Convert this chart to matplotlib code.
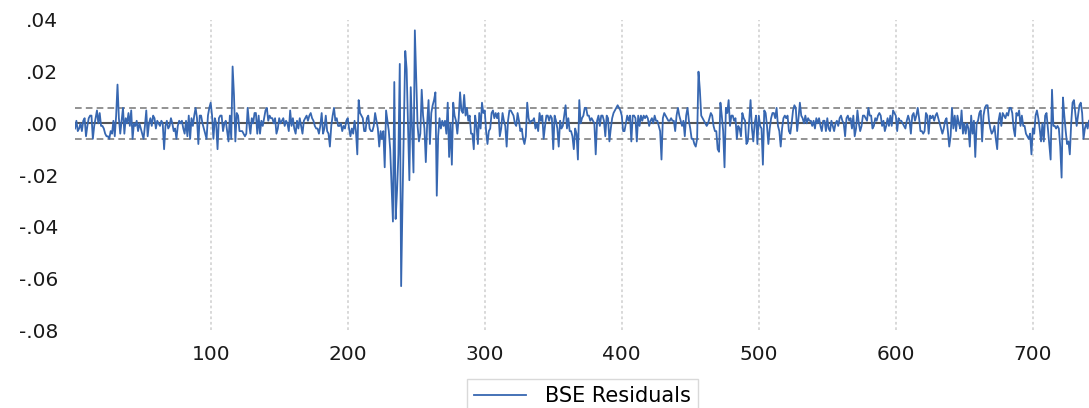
import numpy as np
import matplotlib
matplotlib.use("Agg")
import matplotlib.pyplot as plt

res_001_067 = [-2, 1, -3, -2, 0, -3, 1, 2, -5, -1,
               2, 3, 3, -6, -1, 2, 5, 0, 4, -1,
               -1, -2, -4, -5, -5, -6, -3, -4, 1, -5,
               3, 15, 2, -4, 1, 6, -4, 2, 0, 4,
               -1, 5, -6, 0, -1, 1, -3, 0, -2, -4,
               -6, -1, 5, -5, 0, 2, -1, 3, 2, -2,
               1, 0, -1, 1, 0, -10, -1]
res_068_134 = [1, -2, -1, 2, 0, -3, -2, -6, -1, 1,
               0, 1, -2, -4, 1, -5, 3, -6, 2, -1,
               3, 6, 2, -8, 3, 3, 0, -2, -4, -6,
               3, 6, 8, 3, -6, 2, 0, -10, 2, 3,
               3, -3, 0, 1, -3, -7, 3, -6, 22, 11,
               -7, 4, 3, -3, -3, -3, -4, -5, -4, 6,
               0, -4, 2, 0, 4, 4, -4]
res_135_201 = [3, -4, 1, -1, 2, 5, 6, 1, 3, 2,
               2, 0, 2, -4, -2, 2, 0, 1, 2, -1,
               1, 0, -3, 5, -1, 2, -2, -4, 1, -2,
               2, -1, -4, 1, 2, 3, 1, 3, 4, 2,
               1, -1, -2, -2, -4, -1, 4, -4, -2, 3,
               -3, -4, -9, -1, 3, 6, 1, 2, -1, -1,
               0, -3, -1, -2, 1, 2, -2]
res_202_270 = [-5, -2, -4, 1, -3, -12, 9, 4, 3, 2,
               -3, -3, 2, 3, -2, -3, -3, -1, 4, 1,
               -2, -9, -3, -6, -3, -17, 5, 1, -3, -10,
               -24, -38, 16, -37, -26, -12, 23, -63, -30, 0,
               28, 21, 0, -22, 14, -2, -19, 36, 17, -1,
               -7, -4, 13, 3, -2, -15, 0, 9, -8, 4,
               7, 9, 12, -28, -5, 2, -2, 1, -1]
res_271_335 = [1, -4, 8, -13, 0, -16, 8, 3, 1, -4,
               2, 12, 5, 4, 11, 3, 6, 1, 3, -4,
               -4, -10, 3, -1, -8, 4, -2, 8, 4, 5,
               -3, -8, -3, -2, 4, 5, 2, 4, 2, 4,
               -5, -2, 4, 1, -1, -9, 1, 5, 5, 4,
               3, 0, -1, 4, 1, -3, -2, -6, -8, -5,
               8, 2, 0, 1, 1]
res_336_403 = [2, -2, 0, -3, 4, 1, 3, -6, -1, 3,
               3, 1, 3, 2, -10, 3, 1, -2, -9, 1,
               -2, -1, 3, 7, -2, 2, -3, -3, -5, -10,
               -2, -4, -14, 9, 0, 2, 3, 6, 6, 3,
               3, 1, 2, 1, 0, -12, 1, 3, -1, 3,
               3, 1, -5, 3, 2, -7, -2, 2, 4, 5,
               6, 7, 6, 5, 3, -3, -3, 0]
res_404_470 = [3, 1, 3, -7, 3, 3, 2, -7, 3, -1,
               3, 1, 3, 2, 3, 2, -1, 1, 2, 0,
               3, 1, 1, -1, -3, -14, 2, 4, 3, 2,
               1, 1, 2, 1, 1, -3, 3, 6, 3, 1,
               -1, 1, -5, 3, 6, 1, -2, -6, -6, -8,
               -9, -6, 20, 13, 3, 2, 1, 0, -1, 0,
               2, 4, 3, -1, -3, -3, -10]
res_471_537 = [-11, 8, 3, -3, -17, 6, 4, 9, -1, 3,
               3, 1, 2, -6, -1, -2, -5, 4, 2, 1,
               -8, -7, 1, 9, -2, -7, 0, 3, -8, 3,
               -1, -2, -16, 5, 4, -1, -8, -2, 2, 4,
               4, 2, 6, -1, -3, -9, -2, 2, 3, 2,
               3, -3, -4, 0, 5, 7, 6, -3, 2, 8,
               3, 2, 0, 3, 0, 2, 1]
res_538_605 = [1, -1, 1, -2, 2, 0, 2, -1, -3, 1,
               1, -3, 2, -2, -3, 1, -1, -3, 0, 1,
               -1, 2, 3, 1, 0, -5, 2, 3, 1, 2,
               -2, 3, -5, -2, 5, 0, -3, -1, 3, 3,
               2, 1, 6, 3, 3, -2, -1, 2, 1, 3,
               4, 3, -1, 1, -3, -1, 2, -1, 3, -1,
               5, 4, 3, -3, 2, 1, 1, 0]
res_606_672 = [-1, -2, 1, 3, 1, -4, 3, 4, 1, 3,
               6, 2, -3, -3, -4, -3, 4, 3, -4, 3,
               2, 3, 1, 3, 4, 2, 0, -2, -4, -2,
               1, 2, -3, -9, -5, 6, -2, 3, -3, 3,
               0, -2, 5, -4, 0, -4, 0, -2, -9, 3,
               -4, 1, -13, 0, 1, 4, 5, -7, 3, 6,
               7, 7, 1, -2, -4, -3, -1]
res_673_741 = [-6, -10, 1, 4, -1, 4, 3, 2, 4, 3,
               6, 6, 4, -2, -5, 4, 3, 5, -1, 3,
               -1, -1, -4, -5, -6, -4, -12, -2, -4, 3,
               5, 2, -2, -7, 0, -7, 3, 4, -2, -8,
               -14, 13, -1, -1, -2, -1, -2, -9, -21, 10,
               3, -3, -8, -7, -12, 0, 8, 9, 4, -1,
               3, 7, 8, 4, -6, -2, 0, -2, 1]

band = 0.0059          # dashed +/- band
y_ticks = [-0.08, -0.06, -0.04, -0.02, 0.00, 0.02, 0.04]
y_labels = ["-.08", "-.06", "-.04", "-.02", ".00", ".02", ".04"]
x_ticks = [100, 200, 300, 400, 500, 600, 700]

resid = np.array(res_001_067 + res_068_134 + res_135_201 + res_202_270
                 + res_271_335 + res_336_403 + res_404_470 + res_471_537
                 + res_538_605 + res_606_672 + res_673_741) / 1000.0
obs = np.arange(1, len(resid) + 1)

plt.rcParams["font.family"] = ["DejaVu Sans"]

fig = plt.figure(figsize=(10.89, 4.08), dpi=100)
ax = fig.add_axes([0.0689, 0.191, 0.9311, 0.760])

ax.axhline(0, color="#555555", linewidth=1.5, zorder=2)
ax.axhline(band, color="#808080", linewidth=1.2, linestyle=(0, (4, 2.5)), zorder=2)
ax.axhline(-band, color="#808080", linewidth=1.2, linestyle=(0, (4, 2.5)), zorder=2)
line, = ax.plot(obs, resid, color="#3767b1", linewidth=1.3, zorder=3,
                label="BSE Residuals")

ax.set_xlim(1, 741)
ax.set_ylim(-0.08, 0.04)
ax.set_xticks(x_ticks)
ax.set_xticklabels([str(t) for t in x_ticks])
ax.set_yticks(y_ticks)
ax.set_yticklabels(y_labels)
ax.grid(axis="x", color="#d6d6d6", linestyle=(0, (1.5, 1.5)), linewidth=1.3)
ax.set_axisbelow(True)
for s in ax.spines.values():
    s.set_visible(False)
ax.tick_params(axis="both", length=0, labelsize=14.5, colors="#1a1a1a")
ax.tick_params(axis="x", pad=11)
ax.tick_params(axis="y", pad=12)

fig.legend(handles=[line], loc="upper center", bbox_to_anchor=(0.535, 0.071),
           borderaxespad=0, fontsize=15, frameon=True, fancybox=False,
           edgecolor="#d0d0d0", handlelength=2.5, handletextpad=0.9,
           borderpad=0.35)

fig.savefig("out.png", dpi=100)
